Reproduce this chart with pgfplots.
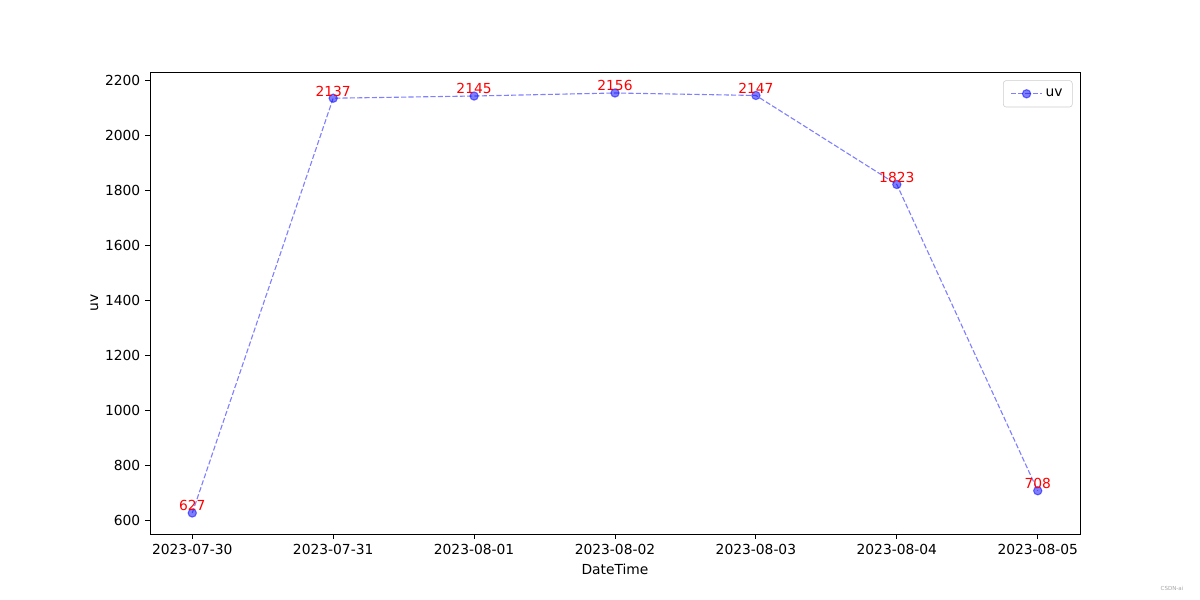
\documentclass[border=0pt]{standalone}
\usepackage{pgfplots}
\pgfplotsset{compat=1.18}
\usepackage{fontspec}
\setmainfont{DejaVu Sans}
\begin{document}
\begin{tikzpicture}[font=\fontsize{10pt}{12pt}\selectfont]
\path (0,0) rectangle (12in,6in);
\begin{axis}[
  at={(1.5in,0.66in)}, anchor=south west,
  scale only axis, width=9.3in, height=4.62in,
  xmin=-0.3, xmax=6.3, ymin=550.55, ymax=2232.45,
  xtick={0,1,2,3,4,5,6},
  xticklabels={2023-07-30,2023-07-31,2023-08-01,2023-08-02,2023-08-03,2023-08-04,2023-08-05},
  ytick={600,800,1000,1200,1400,1600,1800,2000,2200},
  /pgf/number format/assume math mode=true,
  /pgf/number format/1000 sep={},
  tick align=outside, tick pos=left,
  major tick length=3.5pt,
  every tick/.style={black, line width=0.6pt},
  axis line style={line width=0.6pt},
  xlabel={DateTime}, ylabel={uv},
  ylabel style={yshift=-2pt},
  legend style={draw=black!20, rounded corners=2pt, font=\fontsize{10pt}{12pt}\selectfont, at={(0.992,0.982)}, anchor=north east, inner xsep=5pt, inner ysep=4pt},
  legend cell align=left,
  legend image code/.code={
    \draw[#1, mark repeat=2, mark phase=2] plot coordinates {(0cm,0cm) (0.4cm,0cm) (0.8cm,0cm)};
  },
  nodes near coords,
  nodes near coords style={text=red, opacity=1, text opacity=1, anchor=south, inner sep=1pt, font=\fontsize{10pt}{12pt}\selectfont},
  clip=false,
]
\addplot[blue, opacity=0.5, dash pattern=on 3.7pt off 1.6pt, line width=0.8pt, mark=*, mark size=3pt, mark options={solid, fill=blue, draw=blue}]
coordinates {(0,627) (1,2137) (2,2145) (3,2156) (4,2147) (5,1823) (6,708)};
\addlegendentry{uv}
\end{axis}
\node[anchor=center, text=black!35, font=\fontsize{4pt}{5pt}\selectfont] at (11.72in,0.12in) {CSDN-ai};
\end{tikzpicture}
\end{document}
